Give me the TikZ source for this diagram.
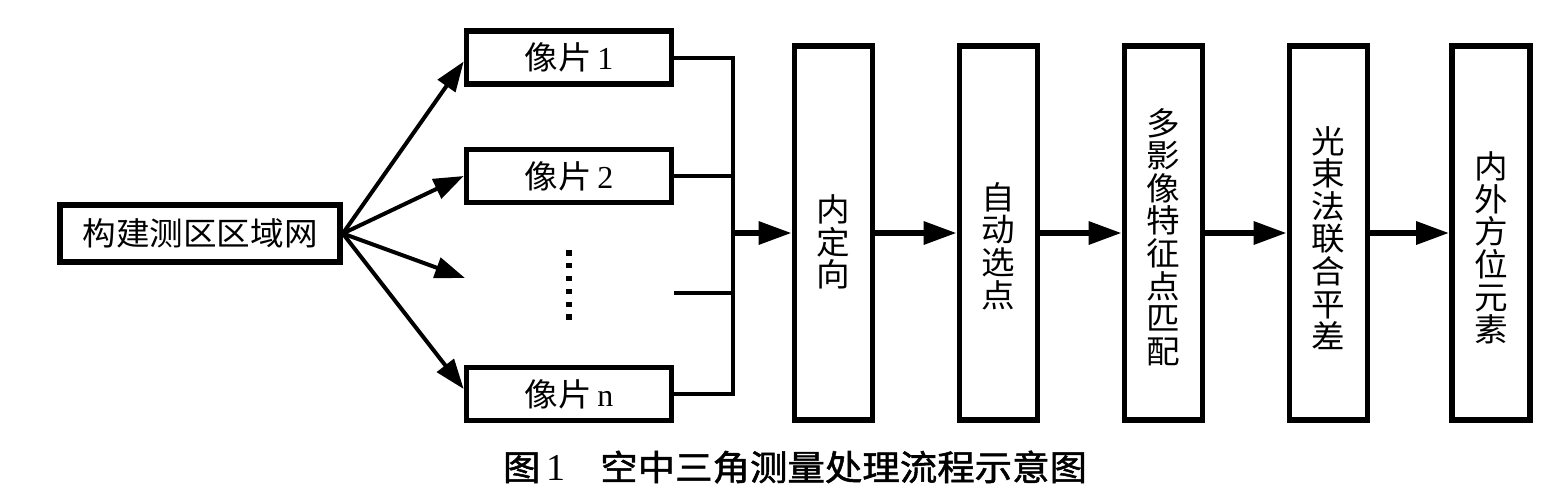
\documentclass[tikz,border=0pt]{standalone}
\usepackage{fontspec}
\usetikzlibrary{arrows.meta,positioning}
\newfontfamily\cjk{Noto Sans CJK SC}[FakeStretch=1.05]
\newfontfamily\cjkb{Noto Sans CJK SC}[FakeStretch=1.07,FakeBold=1.5]
\newfontfamily\tms{Liberation Serif}
\begin{document}
\begin{tikzpicture}[x=0.5pt,y=-0.5pt,
  box/.style={draw,line width=2.8pt,inner sep=0pt,font=\cjk\fontsize{16}{16}\selectfont},
  hbox/.style={box,minimum width=102.5pt,minimum height=26.5pt},
  vbox/.style={box,minimum width=39pt,minimum height=187pt,align=center,
     font=\cjk\fontsize{16}{16.3}\selectfont},
  vtext/.style={font=\cjk\fontsize{16}{16.3}\selectfont,align=center},
  fan/.style={line width=2pt,-{Triangle[length=15pt,width=10.5pt]}},
  bus/.style={line width=2pt},
  flow/.style={line width=3pt,-{Triangle[length=16.5pt,width=11pt]}},
  dotmark/.style={fill,inner sep=0pt,minimum size=2.6pt}]
\useasboundingbox (0,0) rectangle (1557,500);
\fill[white] (0,0) rectangle (1557,500);
% source
\node[box,minimum width=140pt,minimum height=28.5pt] (src) at (200,233.5) {构建测区区域网};
% image boxes
\node[hbox] (p1) at (569,57.5) {像片\,{\tms 1}};
\node[hbox] (p2) at (569,176) {像片\,{\tms 2}};
\node[hbox] (pn) at (569,394) {像片\,{\tms n}};
% dots
\foreach \i in {0,...,5} \node[dotmark] (d\i) at (569,253+12.8*\i) {};
\coordinate (dtip) at (465,278);
\coordinate (dl) at (674,293);
\coordinate (bus) at (733,233);
% tall boxes
\node[vbox] (b1) at (833.5,233) {};
\node[vbox] (b2) at (998.5,233) {};
\node[vbox] (b3) at (1163.5,233) {};
\node[vbox] (b4) at (1328.5,233) {};
\node[vbox] (b5) at (1491,233) {};
\node[vtext] (t1) at (833.5,242) {内\\定\\向};
\node[vtext] (t2) at (998.5,246) {自\\动\\选\\点};
\node[vtext] (t3) at (1163.5,237) {多\\影\\像\\特\\征\\点\\匹\\配};
\node[vtext] (t4) at (1328.5,238) {光\\束\\法\\联\\合\\平\\差};
\node[vtext] (t5) at (1491,248) {内\\外\\方\\位\\元\\素};
% fan arrows
\draw[fan] (src.east) -- ([yshift=-2pt]p1.west);
\draw[fan] (src.east) -- (p2.west);
\draw[fan] (src.east) -- (dtip);
\draw[fan] (src.east) -- ([yshift=2.5pt]pn.west);
% bus
\draw[bus] (p1.east) -| (bus);
\draw[bus] (p2.east) -| (bus);
\draw[bus] (dl) -| (bus);
\draw[bus] (pn.east) -| (bus);
% flow
\draw[flow] (bus) -- (b1.west);
\draw[flow] (b1.east) -- (b2.west);
\draw[flow] (b2.east) -- (b3.west);
\draw[flow] (b3.east) -- (b4.west);
\draw[flow] (b4.east) -- (b5.west);
% caption
\node[font=\cjkb\fontsize{17.5}{17.5}\selectfont,anchor=center] (cap) at (795,467) {图\,{\tms\fontsize{19}{19}\selectfont 1}\hspace{1em}空中三角测量处理流程示意图};
\end{tikzpicture}
\end{document}
